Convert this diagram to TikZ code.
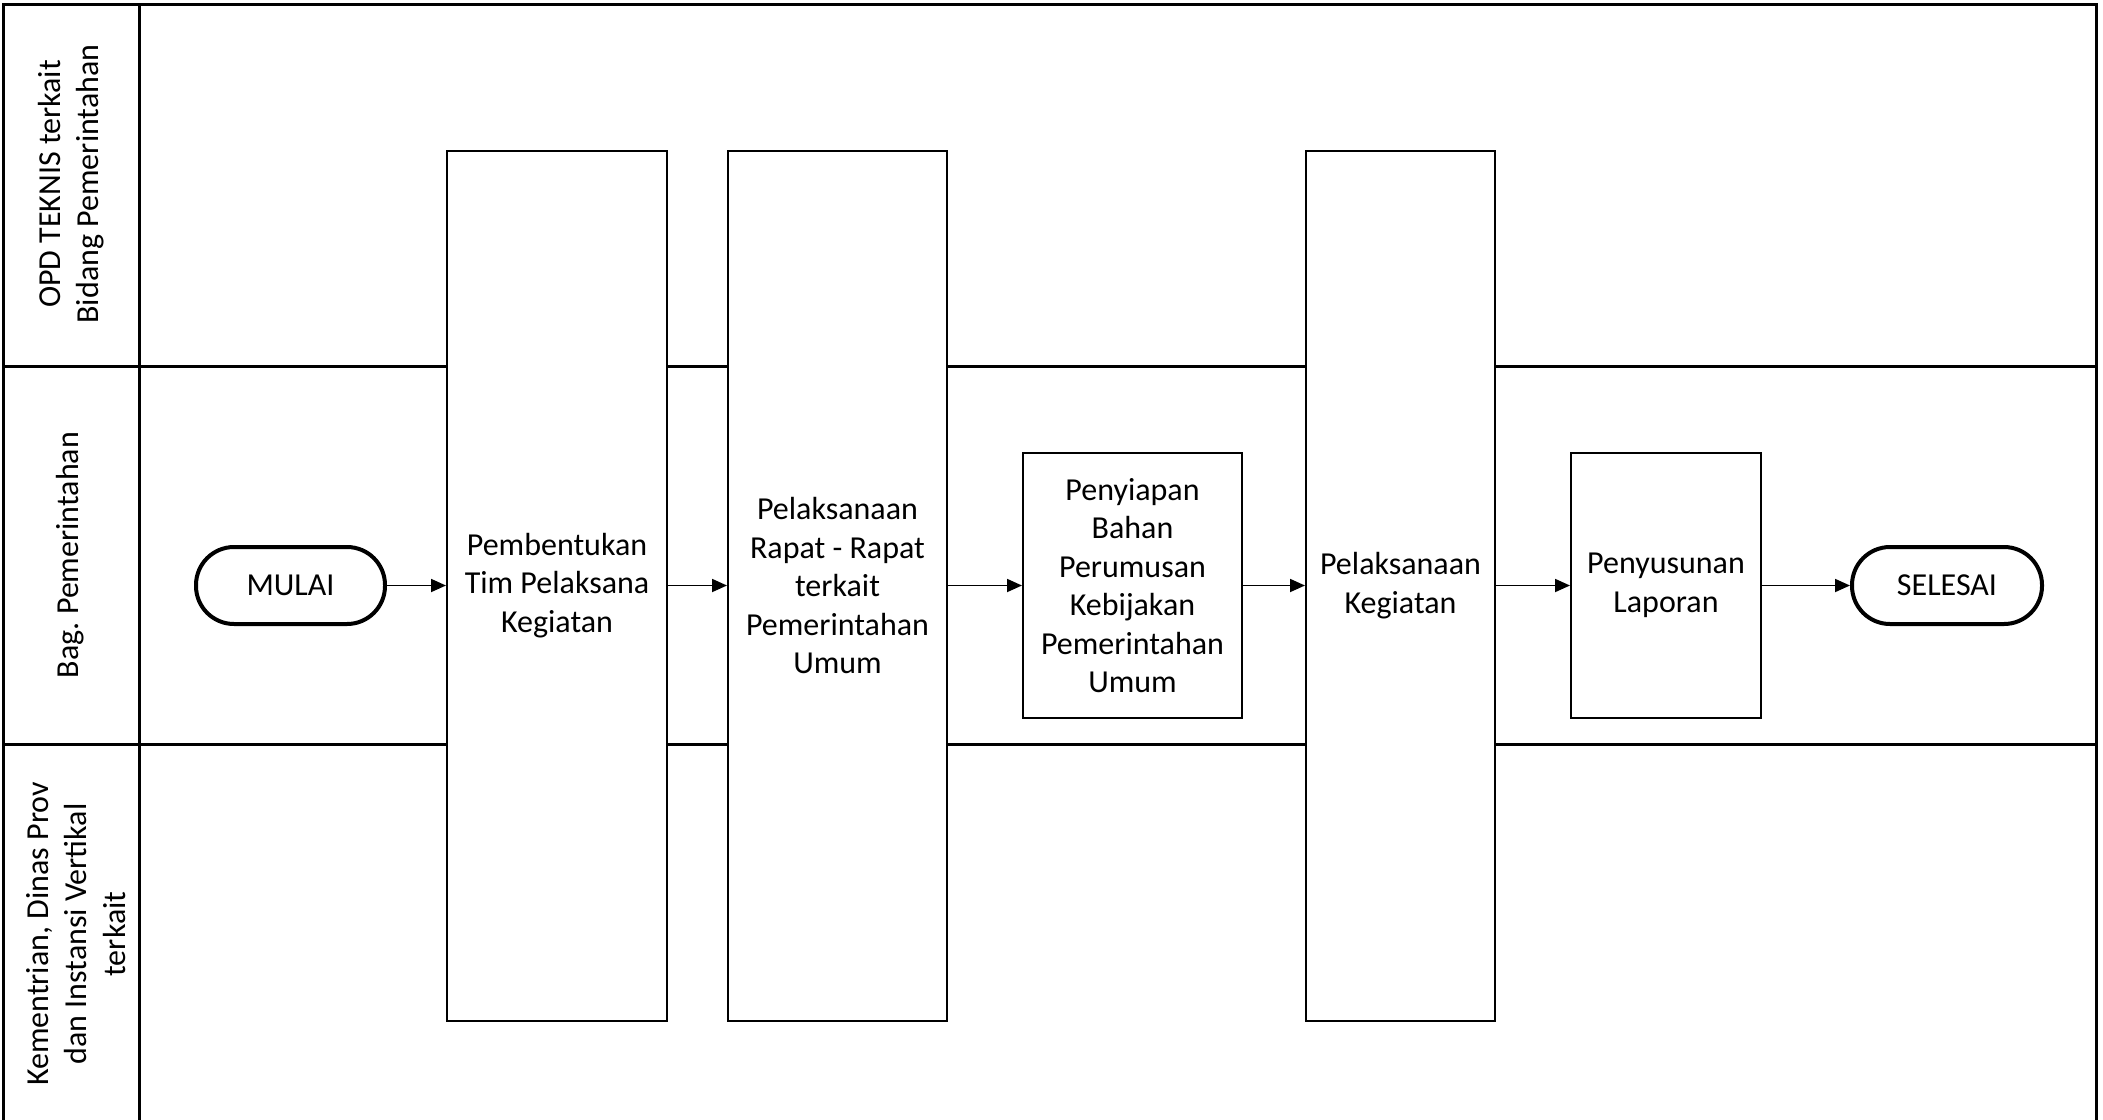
\documentclass[tikz,border=0pt]{standalone}
\usepackage{fontspec}
\setmainfont{Carlito}
\frenchspacing
\usetikzlibrary{arrows.meta}
\tikzset{
  txt/.style={font=\fontsize{32}{38.5}\selectfont, align=center, text=black},
  lanelbl/.style={txt, rotate=90, inner sep=0pt},
  procbox/.style={txt, draw=black, line width=2pt, fill=white, inner sep=0pt},
  term/.style={txt, draw=black, line width=4pt, fill=white, inner sep=0pt,
    minimum width=189pt, minimum height=77pt, rounded corners=38pt},
  lanegrid/.style={draw=black, line width=3pt},
  flow/.style={draw=black, line width=1.8pt, -{Triangle[length=15pt,width=13pt]}}
}
\begin{document}
\begin{tikzpicture}[x=1pt,y=-1pt]
\useasboundingbox (0,0) rectangle (2103,1119);
\clip (0,0) rectangle (2103,1119);
% swimlane frame
\draw[lanegrid] (3,1125) -- (3,4) -- (2096,4) -- (2096,1125);
\draw[lanegrid] (139,4) -- (139,1125);
\draw[lanegrid] (3,366) -- (2096,366);
\draw[lanegrid] (3,744) -- (2096,744);
% lane labels
\node[lanelbl] (l1) at (71,184) {OPD TEKNIS terkait\\Bidang Pemerintahan};
\node[lanelbl] (l2) at (70,555) {Bag. Pemerintahan};
\node[lanelbl] (l3) at (76,934) {Kementrian, Dinas Prov\\dan Instansi Vertikal\\terkait};
% process
\node[term] (mulai) at (290.5,585.5) {MULAI};
\node[procbox, minimum width=220pt, minimum height=870pt] (b1) at (557,585.5) {Pembentukan\\Tim Pelaksana\\Kegiatan};
\node[procbox, minimum width=219pt, minimum height=870pt] (b2) at (837.5,585.5) {Pelaksanaan\\Rapat - Rapat\\terkait\\Pemerintahan\\Umum};
\node[procbox, minimum width=219pt, minimum height=265pt] (b3) at (1132.5,585.5) {Penyiapan\\Bahan\\Perumusan\\Kebijakan\\Pemerintahan\\Umum};
\node[procbox, minimum width=189pt, minimum height=870pt] (b4) at (1400.5,585.5) {Pelaksanaan\\Kegiatan};
\node[procbox, minimum width=190pt, minimum height=265pt] (b5) at (1666,585.5) {Penyusunan\\Laporan};
\node[term, minimum width=190pt] (selesai) at (1947,585.5) {SELESAI};
% connectors
\draw[flow] (mulai) -- (b1);
\draw[flow] (b1) -- (b2);
\draw[flow] (b2) -- (b3);
\draw[flow] (b3) -- (b4);
\draw[flow] (b4) -- (b5);
\draw[flow] (b5) -- (selesai);
\end{tikzpicture}
\end{document}
